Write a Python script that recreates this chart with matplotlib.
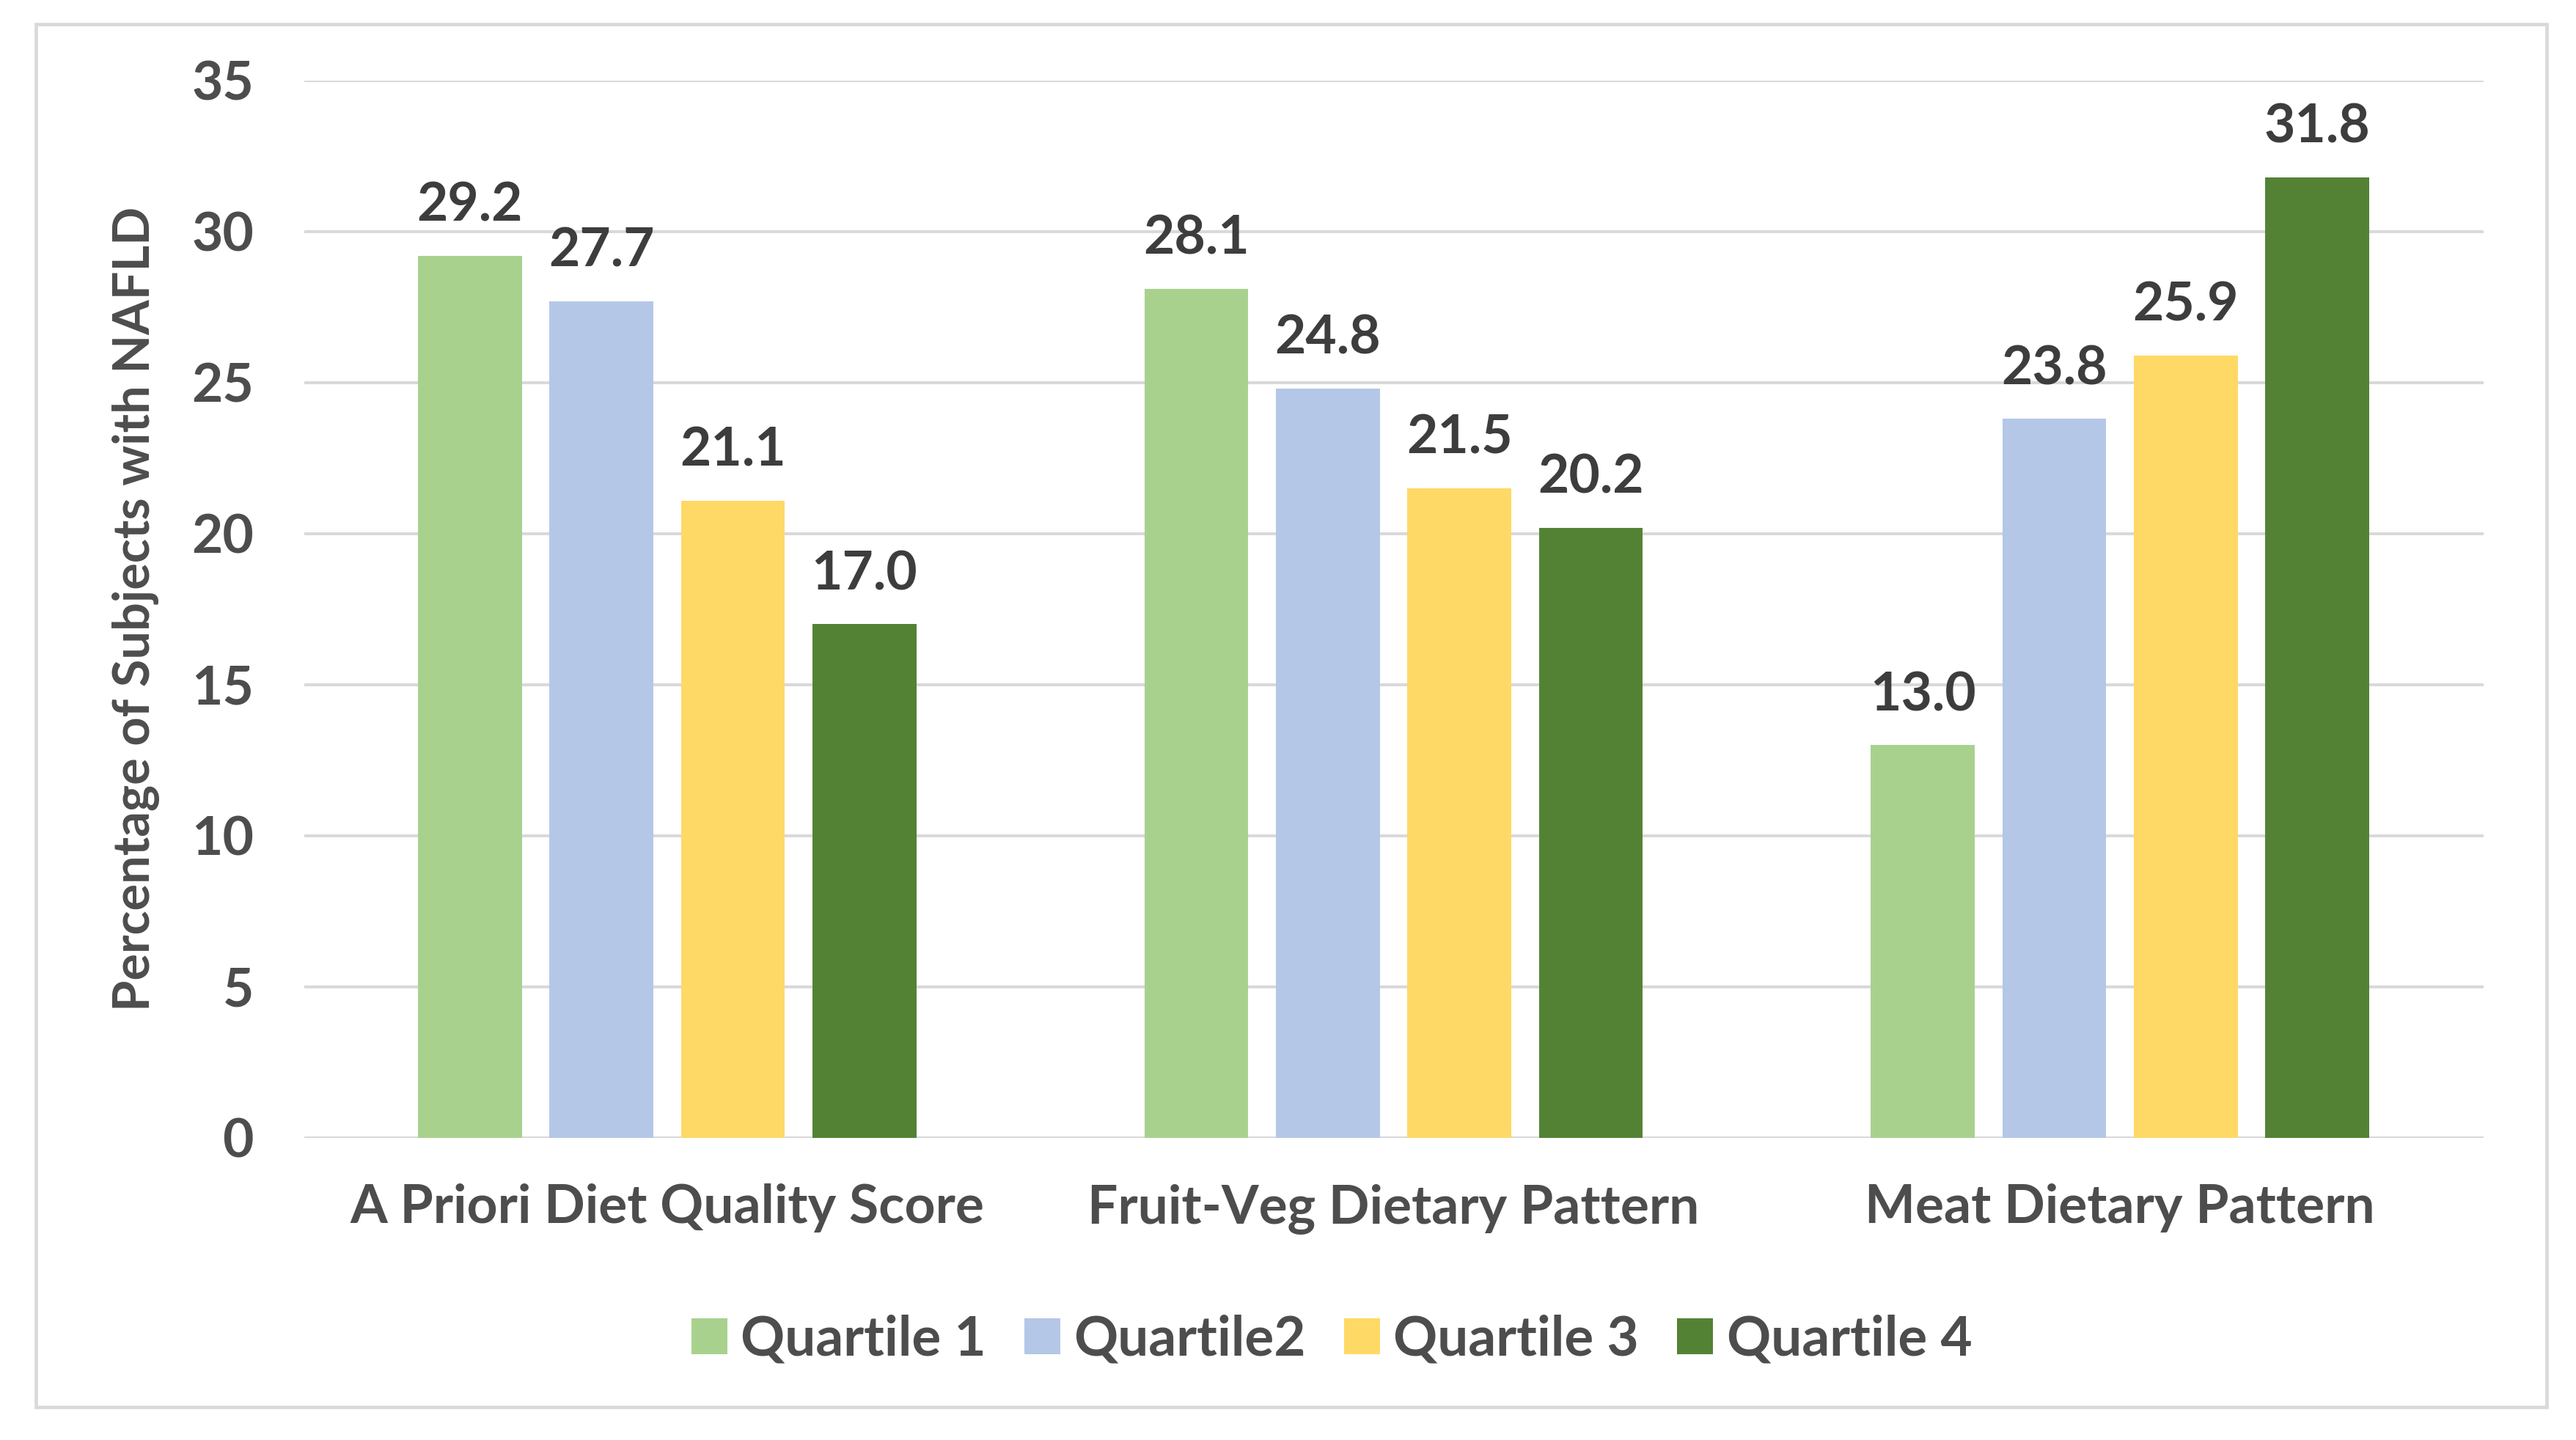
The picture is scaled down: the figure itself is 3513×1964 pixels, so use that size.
import numpy as np
import matplotlib
matplotlib.use("Agg")
import matplotlib.pyplot as plt
from matplotlib.patches import Rectangle

plt.rcParams['font.family'] = ['Lato', 'DejaVu Sans']
plt.rcParams['font.weight'] = 'bold'

categories = ["A Priori Diet Quality Score", "Fruit-Veg Dietary Pattern", "Meat Dietary Pattern"]
series_names = ["Quartile 1", "Quartile2", "Quartile 3", "Quartile 4"]
q1 = [29.2, 28.1, 13.0]
q2 = [27.7, 24.8, 23.8]
q3 = [21.1, 21.5, 25.9]
q4 = [17.0, 20.2, 31.8]
yticks = [0, 5, 10, 15, 20, 25, 30, 35]

colors = ["#A9D18E", "#B4C7E7", "#FFD966", "#548235"]

fig = plt.figure(figsize=(3513 / 224, 1964 / 224), dpi=224)
ax = fig.add_axes([0.118, 0.2098, 0.846, 0.7343])

x = np.arange(len(categories))
width = 0.143
step = 0.181
for i, (vals, name) in enumerate(zip([q1, q2, q3, q4], series_names)):
    bars = ax.bar(x + (i - 1.5) * step, vals, width, color=colors[i], label=name, zorder=3)
    ax.bar_label(bars, labels=["%.1f" % v for v in vals], padding=11,
                 fontsize=23.5, fontweight='bold', color='#3d3d3d')

ax.set_xlim(-0.5, 2.5)
ax.set_ylim(0, 35)
ax.set_yticks(yticks)
ax.set_xticks(x)
ax.set_xticklabels(categories)
ax.grid(axis='y', color='#D9D9D9', linewidth=1.3, zorder=0)
for s in ax.spines.values():
    s.set_visible(False)
ax.tick_params(axis='both', length=0, labelsize=23.5, labelcolor='#4d4d4d')
ax.tick_params(axis='y', pad=22)
ax.tick_params(axis='x', pad=20)
ax.set_ylabel("Percentage of Subjects with NAFLD", fontsize=22, fontweight='bold',
              color='#4d4d4d', labelpad=14)

fig.legend(loc='center', bbox_to_anchor=(0.517, 0.0696), ncol=4, frameon=False,
           fontsize=24, handlelength=0.65, handleheight=0.65, handletextpad=0.25,
           columnspacing=0.7, labelcolor='#4d4d4d')

fig.patches.append(Rectangle((0.014, 0.0228), 0.9745, 0.9602, transform=fig.transFigure,
                             fill=False, edgecolor='#D9D9D9', linewidth=1.5))

fig.savefig("out.png", dpi=224, facecolor='white')
